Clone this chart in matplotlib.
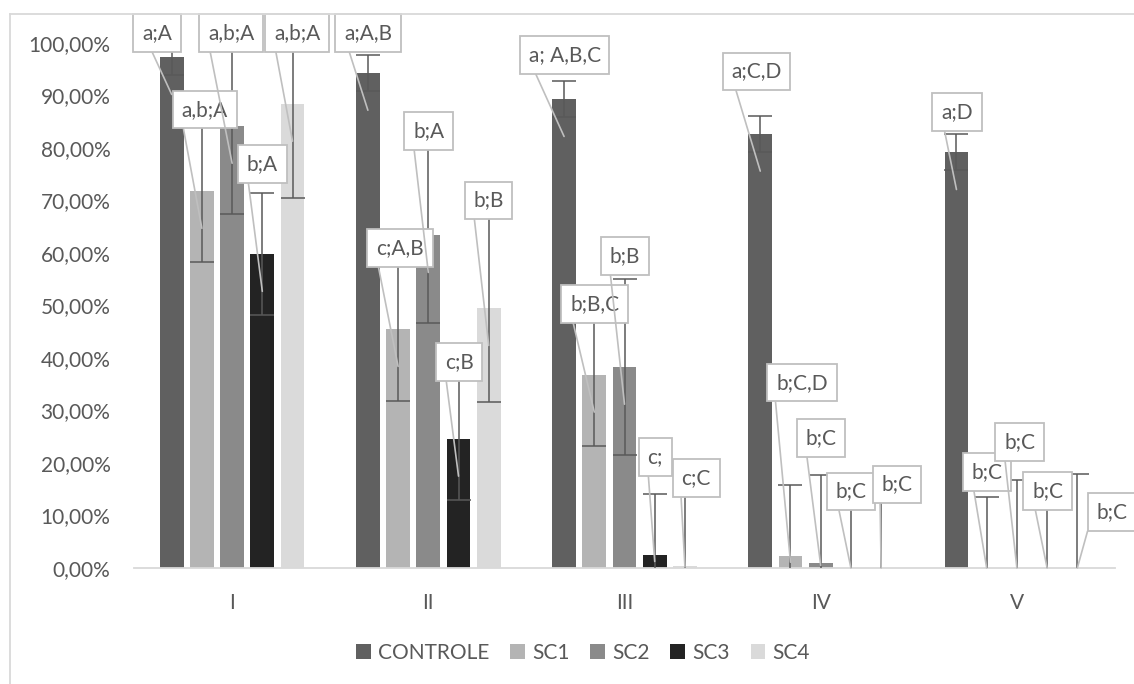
import matplotlib
matplotlib.use("Agg")
import matplotlib.pyplot as plt
from matplotlib.lines import Line2D
from matplotlib.patches import Patch
from matplotlib.ticker import FuncFormatter, MultipleLocator
import numpy as np

plt.rcParams['font.family'] = ['Lato', 'DejaVu Sans']

# ---------------- data ----------------
categories = ["I", "II", "III", "IV", "V"]
series_names = ["CONTROLE", "SC1", "SC2", "SC3", "SC4"]

controle = [97.3, 94.3, 89.3, 82.7, 79.2]
sc1 = [71.8, 45.5, 36.8, 2.2, 0.0]
sc2 = [84.2, 63.4, 38.3, 1.0, 0.0]
sc3 = [59.8, 24.6, 2.5, 0.0, 0.0]
sc4 = [88.4, 49.5, 0.4, 0.0, 0.0]

err_controle = [3.45, 3.45, 3.45, 3.45, 3.45]
err_sc1 = [13.6, 13.6, 13.6, 13.6, 13.6]
err_sc2 = [16.7, 16.7, 16.7, 16.7, 16.7]
err_sc3 = [11.6, 11.6, 11.6, 11.6, 11.6]
err_sc4 = [17.9, 17.9, 17.9, 17.9, 17.9]

labels_controle = ["a;A", "a;A,B", "a; A,B,C", "a;C,D", "a;D"]
labels_sc1 = ["a,b;A", "c;A,B", "b;B,C", "b;C,D", "b;C"]
labels_sc2 = ["a,b;A", "b;A", "b;B", "b;C", "b;C"]
labels_sc3 = ["b;A", "c;B", "c;", "b;C", "b;C"]
labels_sc4 = ["a,b;A", "b;B", "c;C", "b;C", "b;C"]

# label box centres (x in category units, y in %), i.e. layout of moved Excel labels
lab_x_controle = [-0.382, 0.693, 1.695, 2.673, 3.695]
lab_y_controle = [101.9, 101.9, 97.7, 94.6, 86.9]
lab_x_sc1 = [-0.140, 0.856, 1.848, 2.905, 3.848]
lab_y_sc1 = [87.3, 61.0, 50.3, 35.3, 18.3]
lab_x_sc2 = [-0.005, 1.002, 2.001, 3.002, 4.014]
lab_y_sc2 = [101.9, 83.2, 59.4, 24.8, 24.0]
lab_x_sc3 = [0.155, 1.157, 2.156, 3.155, 4.156]
lab_y_sc3 = [77.0, 39.2, 21.1, 14.6, 14.7]
lab_x_sc4 = [0.331, 1.307, 2.365, 3.389, 4.485]
lab_y_sc4 = [101.9, 70.0, 17.1, 15.9, 10.7]

values = [controle, sc1, sc2, sc3, sc4]
errors = [err_controle, err_sc1, err_sc2, err_sc3, err_sc4]
labels = [labels_controle, labels_sc1, labels_sc2, labels_sc3, labels_sc4]
lab_x = [lab_x_controle, lab_x_sc1, lab_x_sc2, lab_x_sc3, lab_x_sc4]
lab_y = [lab_y_controle, lab_y_sc1, lab_y_sc2, lab_y_sc3, lab_y_sc4]

colors = ["#606060", "#B4B4B4", "#8A8A8A", "#232323", "#DADADA"]
text_color = "#595959"

# ---------------- figure ----------------
W, H = 1134, 684
fig = plt.figure(figsize=(W / 100, H / 100), dpi=100)
ax = fig.add_axes([134 / W, (H - 568) / H, 981 / W, 525 / H])

x = np.arange(len(categories))
bar_w = 0.122
step = 0.154
fs = 15

for j, (vals, errs, col) in enumerate(zip(values, errors, colors)):
    xpos = x + (j - 2) * step
    ax.bar(xpos, vals, width=bar_w, color=col, zorder=2,
           yerr=errs, error_kw=dict(ecolor="#595959", elinewidth=1.1,
                                    capsize=8.6, capthick=1.1, zorder=3))

for j in range(len(series_names)):
    xpos = x + (j - 2) * step
    for i in range(len(categories)):
        v = values[j][i]
        yend = v - 7.1 if v > 14.2 else v / 2
        ax.annotate(labels[j][i], xy=(xpos[i], yend),
                    xytext=(lab_x[j][i], lab_y[j][i]), textcoords="data",
                    ha="center", va="center", fontsize=fs, color=text_color,
                    bbox=dict(boxstyle="square,pad=0.42", fc="white",
                              ec="#BFBFBF", lw=1.3),
                    arrowprops=dict(arrowstyle="-", color="#BFBFBF", lw=1.2,
                                    shrinkA=0, shrinkB=0, relpos=(-0.06, 0.82)),
                    annotation_clip=False, zorder=5)

ax.set_xlim(-0.5, 4.5)
ax.set_ylim(0, 100)
ax.yaxis.set_major_locator(MultipleLocator(10))
ax.yaxis.set_major_formatter(FuncFormatter(lambda v, p: f"{v:.2f}%".replace(".", ",")))
ax.set_xticks(x)
ax.set_xticklabels(categories)
ax.tick_params(axis="y", length=0, pad=17, labelsize=fs, labelcolor=text_color)
ax.tick_params(axis="x", length=0, pad=18, labelsize=fs, labelcolor=text_color)
for s in ["top", "right", "left"]:
    ax.spines[s].set_visible(False)
ax.spines["bottom"].set_color("#D9D9D9")
ax.spines["bottom"].set_linewidth(1.3)
ax.spines["bottom"].set_zorder(2.5)

handles = [Patch(facecolor=c, edgecolor="none") for c in colors]
fig.legend(handles, series_names, loc="center", bbox_to_anchor=(583 / W, (H - 653) / H),
           ncol=5, frameon=False, fontsize=fs, labelcolor=text_color,
           handlelength=0.7, handleheight=0.7, handletextpad=0.35,
           columnspacing=1.0, borderaxespad=0)

# chart area border
fig.add_artist(Line2D([10 / W, 1.0], [1 - 14 / H, 1 - 14 / H], color="#D9D9D9", lw=1.3))
fig.add_artist(Line2D([10 / W, 10 / W], [0, 1 - 14 / H], color="#D9D9D9", lw=1.3))

fig.savefig("out.png", dpi=100)
